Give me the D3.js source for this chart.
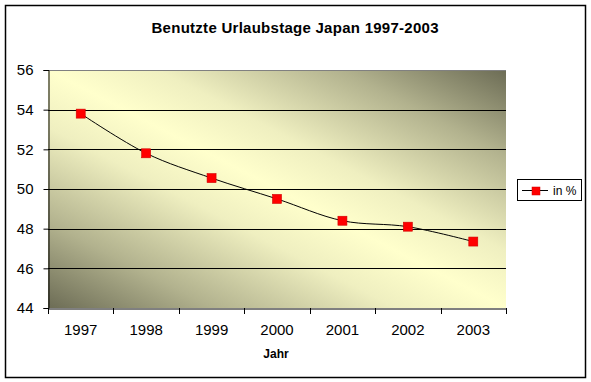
<!DOCTYPE html>
<html>
<head>
<meta charset="utf-8">
<script src="https://cdn.jsdelivr.net/npm/d3@7"></script>
<style>
  html, body { margin: 0; padding: 0; background: #fff; }
  svg { display: block; font-family: "Liberation Sans", Arial, sans-serif; }
</style>
</head>
<body>
<svg id="chart" width="591" height="382"></svg>
<script>
const years = ["1997", "1998", "1999", "2000", "2001", "2002", "2003"];
const values = [53.8, 51.8, 50.55, 49.5, 48.4, 48.1, 47.35];
const yTicks = [44, 46, 48, 50, 52, 54, 56];
const seriesName = "in %";
const titleText = "Benutzte Urlaubstage Japan 1997-2003";
const xTitle = "Jahr";

const svg = d3.select("#chart");
const plot = { left: 48, right: 506, top: 70, bottom: 308 };

// outer frame
svg.append("rect").attr("x", 5.5).attr("y", 5.5).attr("width", 580).attr("height", 372)
  .attr("fill", "#fff").attr("stroke", "#000").attr("stroke-width", 1.5);

// gradient
const defs = svg.append("defs");
const grad = defs.append("linearGradient").attr("id", "bg")
  .attr("x1", 0).attr("y1", 1).attr("x2", 1).attr("y2", 0);
[[0, "#6c6c55"], [0.18, "#b2b28e"], [0.38, "#efefc0"], [0.5, "#ffffcc"], [0.62, "#efefc0"], [0.82, "#b2b28e"], [1, "#6c6c55"]]
  .forEach(([o, c]) => grad.append("stop").attr("offset", o).attr("stop-color", c));

const x = d3.scaleBand().domain(years).range([plot.left, plot.right]).padding(0);
const y = d3.scaleLinear().domain([44, 56]).range([plot.bottom, plot.top]);

svg.append("rect").attr("x", plot.left).attr("y", plot.top)
  .attr("width", plot.right - plot.left).attr("height", plot.bottom - plot.top)
  .attr("fill", "url(#bg)");

// gridlines
svg.append("g").selectAll("line").data(yTicks.filter(t => t > 44 && t < 56)).join("line")
  .attr("x1", plot.left).attr("x2", plot.right)
  .attr("y1", d => Math.round(y(d)) + 0.5).attr("y2", d => Math.round(y(d)) + 0.5)
  .attr("stroke", "#000").attr("stroke-width", 1);
// top border grey
svg.append("line").attr("x1", plot.left).attr("x2", plot.right)
  .attr("y1", y(56) + 0.5).attr("y2", y(56) + 0.5).attr("stroke", "#808080");

// y axis
const yAxis = d3.axisLeft(y).tickValues(yTicks).tickSize(5).tickPadding(10).tickFormat(d3.format("d"));
const gy = svg.append("g").attr("transform", `translate(${plot.left + 0.5},0)`).call(yAxis);
gy.select(".domain").attr("stroke", "#000");
gy.selectAll(".tick line").attr("stroke", "#000");
gy.selectAll(".tick text").attr("font-size", 15).attr("fill", "#000")
  .attr("font-family", "Liberation Sans, Arial, sans-serif");

// x axis (labels)
const xAxis = d3.axisBottom(x).tickSize(0).tickPadding(16);
const gx = svg.append("g").attr("transform", `translate(0,${plot.bottom + 0.5})`).call(xAxis);
gx.select(".domain").attr("stroke", "#000");
gx.selectAll(".tick text").attr("font-size", 15).attr("fill", "#000")
  .attr("font-family", "Liberation Sans, Arial, sans-serif");
// boundary ticks
const bounds = years.map(yr => x(yr)).concat([x(years[years.length - 1]) + x.bandwidth()]);
svg.append("g").selectAll("line").data(bounds).join("line")
  .attr("x1", d => Math.round(d) + 0.5).attr("x2", d => Math.round(d) + 0.5)
  .attr("y1", plot.bottom).attr("y2", plot.bottom + 6)
  .attr("stroke", "#000");

// line
const line = d3.line()
  .x((d, i) => x(years[i]) + x.bandwidth() / 2)
  .y(d => y(d))
  .curve(d3.curveCatmullRom.alpha(0.5));
svg.append("path").datum(values).attr("d", line)
  .attr("fill", "none").attr("stroke", "#000").attr("stroke-width", 1);

// markers
const ms = 9;
svg.append("g").selectAll("rect").data(values).join("rect")
  .attr("x", (d, i) => x(years[i]) + x.bandwidth() / 2 - ms / 2)
  .attr("y", d => y(d) - ms / 2)
  .attr("width", ms).attr("height", ms)
  .attr("fill", "#f00").attr("stroke", "#d00000").attr("stroke-width", 0.6);

// title
svg.append("text").attr("x", 295).attr("y", 33).attr("text-anchor", "middle")
  .attr("font-size", 15).attr("font-weight", "bold")
  .attr("textLength", 287).attr("lengthAdjust", "spacing")
  .text(titleText);

// x axis title
svg.append("text").attr("x", 276).attr("y", 358).attr("text-anchor", "middle")
  .attr("font-size", 12).attr("font-weight", "bold").text(xTitle);

// legend
const lg = svg.append("g");
lg.append("rect").attr("x", 517.5).attr("y", 179.5).attr("width", 64).attr("height", 21)
  .attr("fill", "#fff").attr("stroke", "#000").attr("stroke-width", 1);
lg.append("line").attr("x1", 522).attr("x2", 548).attr("y1", 190.5).attr("y2", 190.5)
  .attr("stroke", "#000");
lg.append("rect").attr("x", 532).attr("y", 187).attr("width", 8).attr("height", 8)
  .attr("fill", "#f00").attr("stroke", "#d00000").attr("stroke-width", 0.5);
lg.append("text").attr("x", 553).attr("y", 195).attr("font-size", 12).text(seriesName);
</script>
</body>
</html>
